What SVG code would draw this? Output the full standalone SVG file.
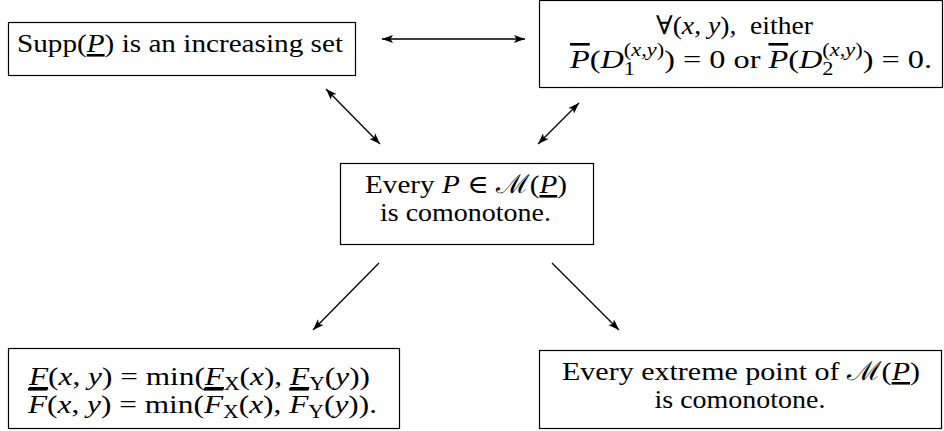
<svg xmlns="http://www.w3.org/2000/svg" width="944" height="431" viewBox="0 0 944 431">
<style>
.box{fill:#fff;stroke:#000;stroke-width:1.2}
.t{font-family:"Liberation Serif","DejaVu Serif",serif;font-size:26px;fill:#000;text-anchor:middle}
.i{font-style:italic}
.s{font-size:18px}
.ul{text-decoration:underline}
.ol{text-decoration:overline}
.c{stroke:#000;stroke-width:1.3;fill:none}
</style>
<defs>
<marker id="ah" markerWidth="12" markerHeight="10" refX="11" refY="5" orient="auto-start-reverse" markerUnits="userSpaceOnUse">
<path d="M0,1 L11,5 L0,9 L2.5,5 Z" fill="#000"/>
</marker>
</defs>
<g id="connectors">
<line class="c" x1="382" y1="39" x2="525" y2="39" marker-start="url(#ah)" marker-end="url(#ah)"/>
<line class="c" x1="326" y1="89" x2="380" y2="144" marker-start="url(#ah)" marker-end="url(#ah)"/>
<line class="c" x1="579" y1="103" x2="538" y2="144" marker-start="url(#ah)" marker-end="url(#ah)"/>
<line class="c" x1="379" y1="263" x2="313" y2="330" marker-end="url(#ah)"/>
<line class="c" x1="552" y1="263" x2="619" y2="330" marker-end="url(#ah)"/>
</g>
<g id="supp">
<rect class="box" x="8.5" y="22.5" width="347" height="53"/>
<text class="t" x="180" y="52" textLength="326" lengthAdjust="spacingAndGlyphs">Supp(<tspan class="i ul">P</tspan>) is an increasing set</text>
</g>
<g id="forall">
<rect class="box" x="539.5" y="0.5" width="403" height="87"/>
<text class="t" x="734.5" y="34" textLength="157" lengthAdjust="spacingAndGlyphs">∀(<tspan class="i">x</tspan>, <tspan class="i">y</tspan>),&#160; either</text>
<text class="t" x="751" y="68" textLength="362" lengthAdjust="spacingAndGlyphs"><tspan class="i ol">P</tspan>(<tspan class="i">D</tspan><tspan class="s" dy="7">1</tspan><tspan class="s" dx="-9" dy="-19">(<tspan class="i">x</tspan>,<tspan class="i">y</tspan>)</tspan><tspan dy="12">)&#160;= 0 or </tspan><tspan class="i ol">P</tspan>(<tspan class="i">D</tspan><tspan class="s" dy="7">2</tspan><tspan class="s" dx="-9" dy="-19">(<tspan class="i">x</tspan>,<tspan class="i">y</tspan>)</tspan><tspan dy="12">)&#160;= 0.</tspan></text>
</g>
<g id="every">
<rect class="box" x="340.5" y="163.5" width="253" height="81"/>
<text class="t" x="466" y="193" textLength="202" lengthAdjust="spacingAndGlyphs">Every <tspan class="i">P</tspan> ∈ ℳ(<tspan class="i ul">P</tspan>)</text>
<text class="t" x="465.5" y="221" textLength="171" lengthAdjust="spacingAndGlyphs">is comonotone.</text>
</g>
<g id="cdf">
<rect class="box" x="8.5" y="348.5" width="391" height="80"/>
<text class="t" x="199.5" y="385" textLength="341" lengthAdjust="spacingAndGlyphs"><tspan class="i ul">F</tspan>(<tspan class="i">x</tspan>, <tspan class="i">y</tspan>) = min(<tspan class="i ul">F</tspan><tspan class="s" dy="5">X</tspan><tspan dy="-5">(</tspan><tspan class="i">x</tspan>), <tspan class="i ul">F</tspan><tspan class="s" dy="5">Y</tspan><tspan dy="-5">(</tspan><tspan class="i">y</tspan>))</text>
<text class="t" x="202.5" y="413" textLength="349" lengthAdjust="spacingAndGlyphs"><tspan class="i ol">F</tspan>(<tspan class="i">x</tspan>, <tspan class="i">y</tspan>) = min(<tspan class="i ol">F</tspan><tspan class="s" dy="5">X</tspan><tspan dy="-5">(</tspan><tspan class="i">x</tspan>), <tspan class="i ol">F</tspan><tspan class="s" dy="5">Y</tspan><tspan dy="-5">(</tspan><tspan class="i">y</tspan>)).</text>
</g>
<g id="extreme">
<rect class="box" x="539.5" y="350.5" width="402" height="78"/>
<text class="t" x="741" y="380" textLength="358" lengthAdjust="spacingAndGlyphs">Every extreme point of ℳ(<tspan class="i ul">P</tspan>)</text>
<text class="t" x="740" y="408" textLength="171" lengthAdjust="spacingAndGlyphs">is comonotone.</text>
</g>
</svg>
